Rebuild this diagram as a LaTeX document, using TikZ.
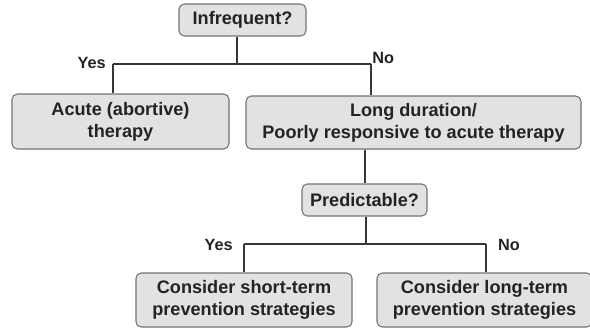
\documentclass[tikz,border=0pt]{standalone}
\usepackage{fontspec}
\setmainfont{Liberation Sans}
\definecolor{boxfill}{RGB}{226,226,226}
\definecolor{boxline}{RGB}{115,115,115}
\definecolor{wire}{RGB}{55,55,55}
\definecolor{ink}{RGB}{35,35,35}
\tikzset{
  stepbox/.style={draw=boxline, fill=boxfill, rounded corners=4pt, line width=0.8pt,
    align=center, text=ink, font=\bfseries\fontsize{13.6}{16.5}\selectfont, inner sep=0pt},
  wire/.style={draw=wire, line width=1.5pt},
  answer/.style={text=ink, font=\bfseries\fontsize{12.2}{14}\selectfont}
}
\begin{document}
\begin{tikzpicture}[x=0.75pt,y=-0.75pt]
    \useasboundingbox (0,0) rectangle (590,330);
    % question boxes
    \node[stepbox, minimum width=127*0.75pt, minimum height=32*0.75pt] (infreq) at (242.5,20) {Infrequent?};
    \node[stepbox, minimum width=125*0.75pt, minimum height=32*0.75pt] (pred) at (364.5,200) {Predictable?};
    % answer boxes
    \node[stepbox, minimum width=217*0.75pt, minimum height=55*0.75pt] (acute) at (120.5,121.5) {Acute (abortive)\\therapy};
    \node[stepbox, minimum width=335*0.75pt, minimum height=53*0.75pt] (long) at (413.5,122.5) {Long duration/\\Poorly responsive to acute therapy};
    \node[stepbox, minimum width=216*0.75pt, minimum height=54*0.75pt] (short) at (244,300) {Consider short-term\\prevention strategies};
    \node[stepbox, minimum width=215*0.75pt, minimum height=54*0.75pt] (longterm) at (484.5,300) {Consider long-term\\prevention strategies};
    % branch points
    \coordinate (split1) at (237,64);
    \coordinate (yes1) at (113,64);
    \coordinate (no1) at (371,64);
    \coordinate (split2) at (366,244);
    \coordinate (yes2) at (244,244);
    \coordinate (no2) at (486,244);
    \draw[wire]
    (infreq.south -| split1) -- (split1)
    (yes1) -- (no1)
    (yes1) -- (yes1 |- acute.north)
    (no1) -- (no1 |- long.north)
    (long.south -| pred.north) -- (pred.north)
    (pred.south -| split2) -- (split2)
    (yes2) -- (no2)
    (yes2) -- (short.north)
    (no2) -- (no2 |- longterm.north)
    ;
    \node[answer, anchor=east] (yesa) at ([xshift=-2pt,yshift=0.5pt]yes1) {Yes};
    \node[answer, anchor=west] (noa) at ([xshift=-2.5pt,yshift=4.5pt]no1) {No};
    \node[answer, anchor=east] (yesb) at ([xshift=-5pt,yshift=-0.5pt]yes2) {Yes};
    \node[answer, anchor=west] (nob) at ([xshift=5.5pt,yshift=-0.5pt]no2) {No};
\end{tikzpicture}
\end{document}
